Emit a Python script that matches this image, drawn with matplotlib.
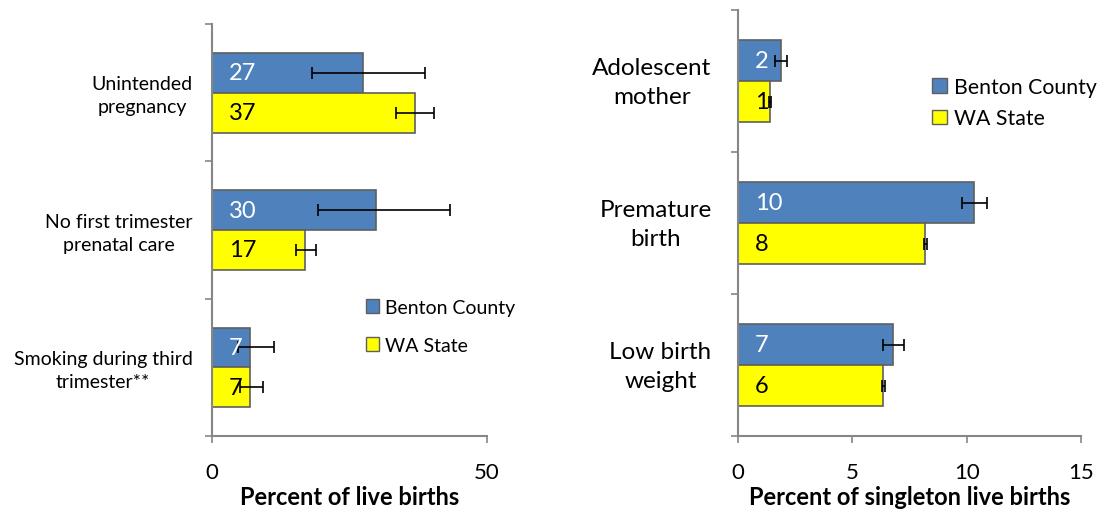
import matplotlib
matplotlib.use("Agg")
from matplotlib import pyplot as plt
from matplotlib.patches import Patch
from matplotlib.transforms import ScaledTranslation
import numpy as np

plt.rcParams['font.family'] = ['Lato', 'DejaVu Sans']

# left panel: percent of live births
left_cats = ["Unintended\npregnancy", "No first trimester\nprenatal care",
             "Smoking during third\ntrimester**"]
left_county = [27.4, 29.8, 6.85]
left_county_lo = [18.1, 19.2, 4.7]
left_county_hi = [38.8, 43.3, 11.3]
left_state = [36.9, 17.0, 6.9]
left_state_lo = [33.4, 15.2, 5.1]
left_state_hi = [40.4, 19.0, 9.3]
left_labels_county = ["27", "30", "7"]
left_labels_state = ["37", "17", "7"]

# right panel: percent of singleton live births
right_cats = ["Adolescent\nmother", "Premature\nbirth", "Low birth\nweight"]
right_county = [1.87, 10.3, 6.8]
right_county_lo = [1.64, 9.78, 6.36]
right_county_hi = [2.14, 10.87, 7.26]
right_state = [1.39, 8.2, 6.36]
right_state_lo = [1.34, 8.15, 6.3]
right_state_hi = [1.43, 8.28, 6.42]
right_labels_county = ["2", "10", "7"]
right_labels_state = ["1", "8", "6"]

blue = "#4f81bd"
yellow = "#ffff00"
edge = "#5f5f5f"
axis_gray = "#868686"


def panel(fig, ax, cats, county, clo, chi, state, slo, shi, lab_c, lab_s,
          xmax, xticks, xlabel, catsize, catpad, catshift):
    y = np.arange(len(cats))[::-1].astype(float)
    h = 0.29
    county = np.array(county)
    state = np.array(state)
    ax.barh(y + h / 2, county, height=h, color=blue, edgecolor=edge, linewidth=1.2, zorder=2)
    ax.barh(y - h / 2, state, height=h, color=yellow, edgecolor=edge, linewidth=1.2, zorder=2)
    ax.errorbar(county, y + h / 2,
                xerr=[county - np.array(clo), np.array(chi) - county],
                fmt='none', ecolor='black', elinewidth=1.2, capsize=4.3, capthick=1.2, zorder=3)
    ax.errorbar(state, y - h / 2,
                xerr=[state - np.array(slo), np.array(shi) - state],
                fmt='none', ecolor='black', elinewidth=1.2, capsize=4.3, capthick=1.2, zorder=3)
    for yy, t in zip(y, lab_c):
        ax.annotate(t, (0, yy + h / 2), xytext=(12, 0), textcoords='offset points',
                    ha='left', va='center', fontsize=17, color='white', zorder=4)
    for yy, t in zip(y, lab_s):
        ax.annotate(t, (0, yy - h / 2), xytext=(12, 0), textcoords='offset points',
                    ha='left', va='center', fontsize=17, color='black', zorder=4)

    ax.set_xlim(0, xmax)
    ax.set_ylim(-0.5, len(cats) - 0.5)
    ax.set_xticks(xticks)
    ax.tick_params(axis='x', labelsize=16, colors=axis_gray, labelcolor='black',
                   length=5, width=1.2, direction='out', pad=14)
    ax.set_yticks(np.arange(len(cats) + 1) - 0.5)
    ax.set_yticklabels([])
    ax.tick_params(axis='y', which='major', length=5, width=1.2, colors=axis_gray)
    ax.set_yticks(y, minor=True)
    ax.set_yticklabels(cats, minor=True, fontsize=catsize)
    ax.tick_params(axis='y', which='minor', length=0, pad=catpad)
    shift = ScaledTranslation(0, catshift / 100, fig.dpi_scale_trans)
    for t in ax.get_yticklabels(minor=True):
        t.set_multialignment('center')
        t.set_linespacing(1.45)
        t.set_transform(t.get_transform() + shift)
    for s in ['top', 'right']:
        ax.spines[s].set_visible(False)
    for s in ['left', 'bottom']:
        ax.spines[s].set_color(axis_gray)
        ax.spines[s].set_linewidth(1.5)
    ax.set_xlabel(xlabel, fontsize=17, fontweight='bold', labelpad=2)


fig = plt.figure(figsize=(10.99, 5.10), dpi=100)
ax1 = fig.add_axes([0.1929, 0.143, 0.2502, 0.808])
ax2 = fig.add_axes([0.6715, 0.143, 0.3121, 0.835])

panel(fig, ax1, left_cats, left_county, left_county_lo, left_county_hi,
      left_state, left_state_lo, left_state_hi, left_labels_county, left_labels_state,
      50, [0, 50], "Percent of live births", 14, 14, 2)
panel(fig, ax2, right_cats, right_county, right_county_lo, right_county_hi,
      right_state, right_state_lo, right_state_hi, right_labels_county, right_labels_state,
      15, [0, 5, 10, 15], "Percent of singleton live births", 17.5, 19, 5)

handles = [Patch(facecolor=blue, edgecolor=edge, label="Benton County"),
           Patch(facecolor=yellow, edgecolor=edge, label="WA State")]
fig.legend(handles=handles, loc='upper left', bbox_to_anchor=(0.317, 0.447),
           frameon=False, fontsize=14, handlelength=0.7, handleheight=0.7,
           handletextpad=0.3, labelspacing=1.1)
fig.legend(handles=handles, loc='upper left', bbox_to_anchor=(0.831, 0.885),
           frameon=False, fontsize=15.3, handlelength=0.7, handleheight=0.7,
           handletextpad=0.3, labelspacing=0.55)

fig.savefig("out.png", dpi=100)
